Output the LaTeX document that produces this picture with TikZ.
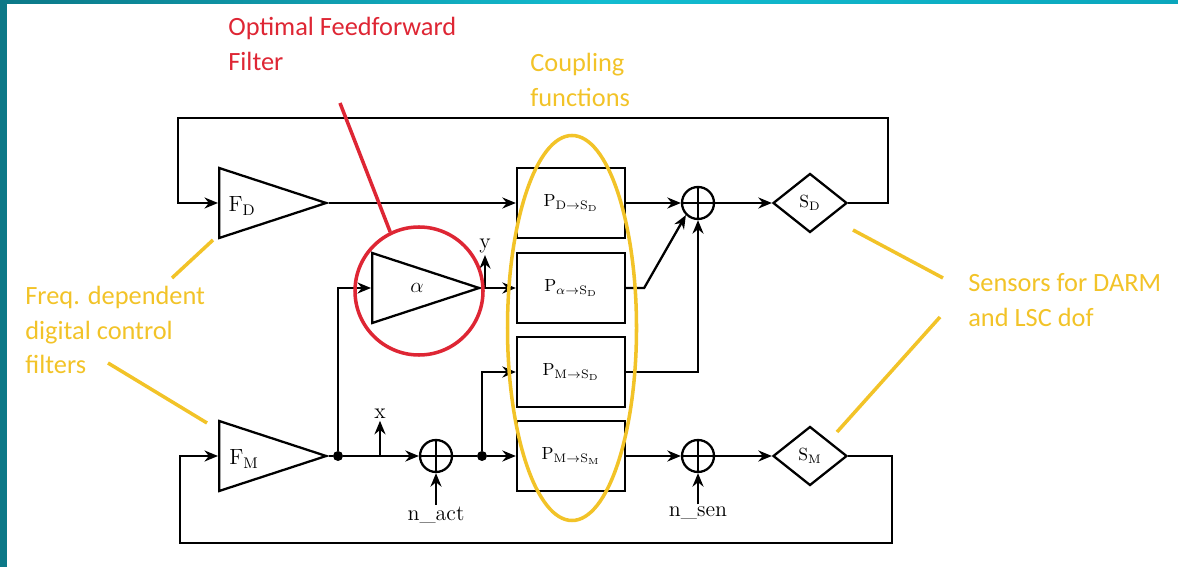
\documentclass[tikz,border=0pt]{standalone}
\usepackage{fontspec}
\usepackage{tikz}
\usetikzlibrary{arrows.meta,positioning,shapes,calc}
\newfontfamily\notefont{Carlito}
\definecolor{noteyellow}{RGB}{242,195,40}
\definecolor{notered}{RGB}{222,38,52}
\definecolor{frameteal}{RGB}{12,120,135}
\definecolor{framecyan}{RGB}{18,188,208}
\definecolor{framedark}{RGB}{10,166,188}

\begin{document}
\begin{tikzpicture}[
  x=0.2mm, y=-0.2mm,
  blk/.style={draw, line width=1.3pt, minimum width=21.6mm, minimum height=14mm, inner sep=0},
  amp/.style={draw, line width=1.3pt, isosceles triangle, isosceles triangle stretches, minimum height=21.4mm, minimum width=14mm, inner sep=0, anchor=west},
  sens/.style={draw, line width=1.3pt, diamond, minimum width=14.8mm, minimum height=11.8mm, inner sep=0},
  sumj/.style={draw, line width=1.3pt, circle, minimum size=6.4mm, inner sep=0,
    path picture={\draw[line width=1.3pt] (path picture bounding box.north) -- (path picture bounding box.south)
      (path picture bounding box.west) -- (path picture bounding box.east);}},
  jdot/.style={circle, fill, minimum size=2mm, inner sep=0},
  sig/.style={-{Stealth[length=2.7mm, width=2.2mm]}, line width=1.3pt},
  wire/.style={line width=1.3pt},
  lbl/.style={font=\fontsize{12.5}{14}\selectfont, inner sep=1pt},
  note/.style={font=\notefont\fontsize{15}{19.5}\selectfont, align=left, inner sep=0, anchor=west},
  yline/.style={line width=2pt, noteyellow},
  rline/.style={line width=2pt, notered}
]
\useasboundingbox (0,0) rectangle (1178,567);

% frame
\fill[frameteal] (0,0) rectangle (7,567);
\fill[left color=frameteal, right color=framecyan] (0,0) rectangle (600,4);
\fill[left color=framecyan, right color=framedark] (600,0) rectangle (1178,4);

% filters
\node[amp] (FD) at (218,203) {};
\node[lbl] at (242,206) {$\mathrm{F}_\mathrm{D}$};
\node[amp] (FM) at (218,456) {};
\node[lbl] at (244,459) {$\mathrm{F}_\mathrm{M}$};
\node[amp] (FF) at (371,288) {};
\node[lbl] at (417,288) {$\alpha$};

% coupling functions
\node[blk] (P1) at (571,203) {$\mathrm{P}_{\mathrm{D}\to\mathrm{S}_\mathrm{D}}$};
\node[blk] (P2) at (571,288) {$\mathrm{P}_{\alpha\to\mathrm{S}_\mathrm{D}}$};
\node[blk] (P3) at (571,372) {$\mathrm{P}_{\mathrm{M}\to\mathrm{S}_\mathrm{D}}$};
\node[blk] (P4) at (571,456) {$\mathrm{P}_{\mathrm{M}\to\mathrm{S}_\mathrm{M}}$};

% junctions and sensors
\node[sumj] (S1) at (698,203) {};
\node[sumj] (NA) at (436,456) {};
\node[sumj] (NS) at (698,456) {};
\node[sens] (SD) at (810,203) {$\mathrm{S}_\mathrm{D}$};
\node[sens] (SM) at (810,456) {$\mathrm{S}_\mathrm{M}$};
\node[jdot] (dot1) at (338,456) {};
\node[jdot] (dot2) at (482,456) {};

% signal labels
\node[lbl] (xlbl) at (380,414) {x};
\node[lbl] (ylbl) at (485,246) {y};
\node[lbl] (nact) at (436,515) {n\_act};
\node[lbl] (nsen) at (698,513) {n\_sen};
\coordinate (xtap) at (380,456);
\coordinate (ytap) at (485,288);

% loops
\coordinate (tlR) at (888,118);
\coordinate (tlL) at (178,118);
\coordinate (blR) at (892,543);
\coordinate (blL) at (180,543);
\draw[sig] (SD.east) -| (tlR) -- (tlL) |- (FD.west);
\draw[sig] (SM.east) -| (blR) -- (blL) |- (FM.west);

% signal flow
\draw[sig] (FD.east) -- (P1.west);
\draw[sig] (P1.east) -- (S1.west);
\draw[sig] (P2.east) -- ++(18,0) -- (S1.225);
\draw[sig] (P3.east) -| (S1.south);
\draw[sig] (S1.east) -- (SD.west);
\draw[wire] (FM.east) -- (dot1);
\draw[sig] (dot1) -- (NA.west);
\draw[sig] (dot1) |- (FF.west);
\draw[sig] (FF.east) -- (P2.west);
\draw[sig] (xtap) -- (xlbl.south);
\draw[sig] (ytap) -- (ylbl.south);
\draw[wire] (NA.east) -- (dot2);
\draw[sig] (dot2) -- (P4.west);
\draw[sig] (dot2) |- (P3.west);
\draw[sig] (nact.north) -- (NA.south);
\draw[sig] (P4.east) -- (NS.west);
\draw[sig] (nsen.north) -- (NS.south);
\draw[sig] (NS.east) -- (SM.west);

% annotations
\node[draw=notered, line width=2pt, circle, minimum size=25.6mm, inner sep=0] (ffcirc) at (419,291) {};
\node[draw=noteyellow, line width=2pt, ellipse, minimum width=25.8mm, minimum height=77mm, inner sep=0] (cplell) at (572,328) {};
\node[note, text=notered] (fftxt) at (228,44) {Optimal Feedforward\\Filter};
\node[note, text=noteyellow] (cpltxt) at (530,80) {Coupling\\functions};
\node[note, text=noteyellow] (filtxt) at (25,330) {Freq. dependent\\digital control\\filters};
\node[note, text=noteyellow] (sentxt) at (968,300) {Sensors for DARM\\and LSC dof};
\coordinate (ffpt) at (340,103);
\draw[rline] (ffpt) -- (ffcirc.116);
\coordinate (fa1) at (172,278);
\coordinate (fa2) at (213,240);
\coordinate (fb1) at (108,363);
\coordinate (fb2) at (207,423);
\draw[yline] (fa1) -- (fa2);
\draw[yline] (fb1) -- (fb2);
\coordinate (sa1) at (943,278);
\coordinate (sa2) at (853,230);
\coordinate (sb1) at (940,317);
\coordinate (sb2) at (837,432);
\draw[yline] (sa1) -- (sa2);
\draw[yline] (sb1) -- (sb2);

\end{tikzpicture}
\end{document}
